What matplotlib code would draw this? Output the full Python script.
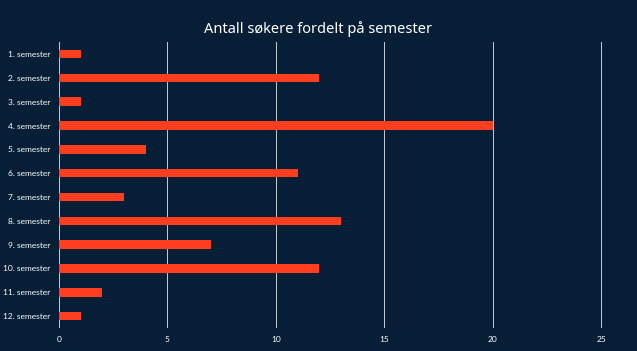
import matplotlib.pyplot as plt

# Data
semesters = ['1. semester', '2. semester', '3. semester', '4. semester', '5. semester',
             '6. semester', '7. semester', '8. semester', '9. semester', '10. semester',
             '11. semester', '12. semester']
counts = [1, 12, 1, 20, 4, 11, 3, 13, 7, 12, 2, 1]
xticks = [0, 5, 10, 15, 20, 25]

bg = '#071f36'
bar_color = '#ff3d1f'

plt.rcParams['font.family'] = ['Lato', 'DejaVu Sans']

fig = plt.figure(figsize=(6.37, 3.51), dpi=100, facecolor=bg)
# x from 0 to 25.5 so the 25 gridline is drawn inside the axes
ax = fig.add_axes([0.0926, 0.0655, 0.851 * 25.5 / 25, 0.8145], facecolor=bg)

ax.barh(range(len(semesters)), counts, height=0.36, color=bar_color, zorder=3)

ax.set_xlim(0, 25.5)
ax.set_ylim(len(semesters) - 0.5, -0.5)
ax.set_yticks(range(len(semesters)))
ax.set_yticklabels(semesters, fontsize=6, color='white')
ax.set_xticks(xticks)
ax.set_xticklabels([str(t) for t in xticks], fontsize=6, color='white')

ax.grid(axis='x', color='#c8ccd2', linewidth=0.7, zorder=0)
ax.tick_params(length=0, pad=6)
for s in ax.spines.values():
    s.set_visible(False)

fig.suptitle('Antall søkere fordelt på semester', fontsize=10.5, color='white',
             family=['Noto Sans', 'DejaVu Sans'], y=0.94)

plt.savefig('out.png', dpi=100, facecolor=bg)
